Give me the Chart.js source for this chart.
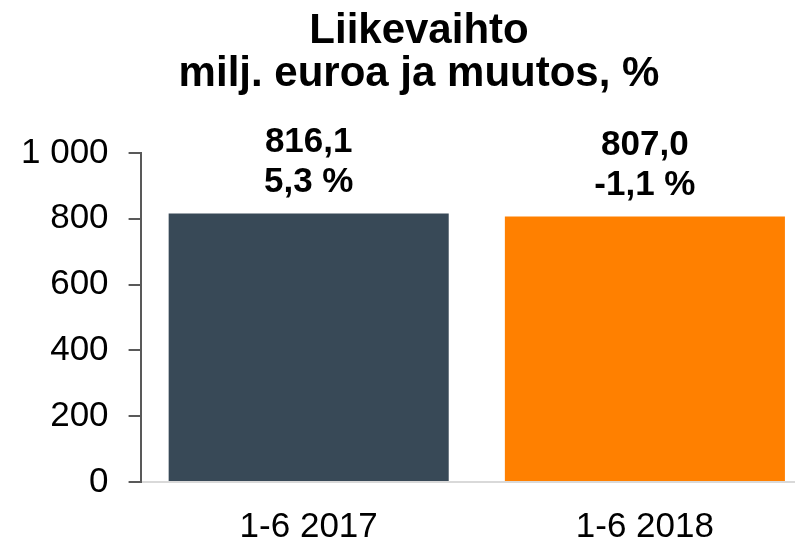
<!DOCTYPE html>
<html>
<head>
<meta charset="utf-8">
<script src="https://cdn.jsdelivr.net/npm/chart.js@4/dist/chart.umd.min.js"></script>
<style>
html,body{margin:0;padding:0;background:#fff;}
#outer{width:795px;height:542px;overflow:hidden;position:relative;}
#inner{width:837px;height:542px;position:absolute;left:0;top:0;}
</style>
</head>
<body>
<div id="outer"><div id="inner"><canvas id="c"></canvas></div></div>
<script>
const categories = ['1-6 2017', '1-6 2018'];
const revenue = [816.1, 807.0];
const changePct = [5.3, -1.1];
const barColors = ['#384957', '#ff8000'];
const titleLines = ['Liikevaihto', 'milj. euroa ja muutos, %'];
const yTicks = [0, 200, 400, 600, 800, 1000];

const FONT = "'Liberation Sans', Arial, sans-serif";
const fmt1 = v => v.toFixed(1).replace('.', ',');
const fmtThousands = v => String(v).replace(/\B(?=(\d{3})+(?!\d))/g, ' ');

const labelPlugin = {
  id: 'barLabels',
  afterDatasetsDraw(chart) {
    const ctx = chart.ctx;
    const meta = chart.getDatasetMeta(0);
    ctx.save();
    ctx.font = 'bold 35px ' + FONT;
    ctx.fillStyle = '#000';
    ctx.textAlign = 'center';
    ctx.textBaseline = 'alphabetic';
    meta.data.forEach((bar, i) => {
      ctx.fillText(fmt1(revenue[i]), bar.x, bar.y - 62);
      ctx.fillText(fmt1(changePct[i]) + ' %', bar.x, bar.y - 22);
    });
    ctx.restore();
  }
};

new Chart(document.getElementById('c'), {
  type: 'bar',
  data: {
    labels: categories,
    datasets: [{
      data: revenue,
      backgroundColor: barColors,
      borderWidth: 0,
      categoryPercentage: 1.0,
      barPercentage: 0.833
    }]
  },
  options: {
    responsive: true,
    maintainAspectRatio: false,
    animation: false,
    layout: { padding: { left: 1, right: 0, top: 0, bottom: 0 } },
    plugins: {
      legend: { display: false },
      tooltip: { enabled: false },
      title: {
        display: true,
        text: titleLines,
        color: '#000',
        font: { family: FONT, size: 42, weight: 'bold', lineHeight: 1.024 },
        padding: { top: 10, bottom: 57 }
      }
    },
    scales: {
      x: {
        afterFit: (s) => { s.height = 60; },
        grid: { display: false },
        border: { display: true, color: '#d9d9d9', width: 2 },
        ticks: { color: '#000', font: { family: FONT, size: 35 }, padding: 16 }
      },
      y: {
        min: 0,
        max: 1000,
        afterBuildTicks: (s) => { s.ticks = yTicks.map(v => ({ value: v })); },
        grid: { display: true, drawOnChartArea: false, drawTicks: true, tickLength: 12, color: '#595959', lineWidth: 2 },
        border: { display: true, color: '#595959', width: 2 },
        ticks: {
          color: '#000',
          font: { family: FONT, size: 35 },
          padding: 20,
          callback: (v) => fmtThousands(v)
        }
      },
      yPad: {
        position: 'right',
        min: 0,
        max: 1000,
        afterFit: (s) => { s.width = 24; },
        grid: { display: false },
        border: { display: false },
        ticks: { display: false }
      }
    }
  },
  plugins: [labelPlugin]
});
</script>
</body>
</html>
